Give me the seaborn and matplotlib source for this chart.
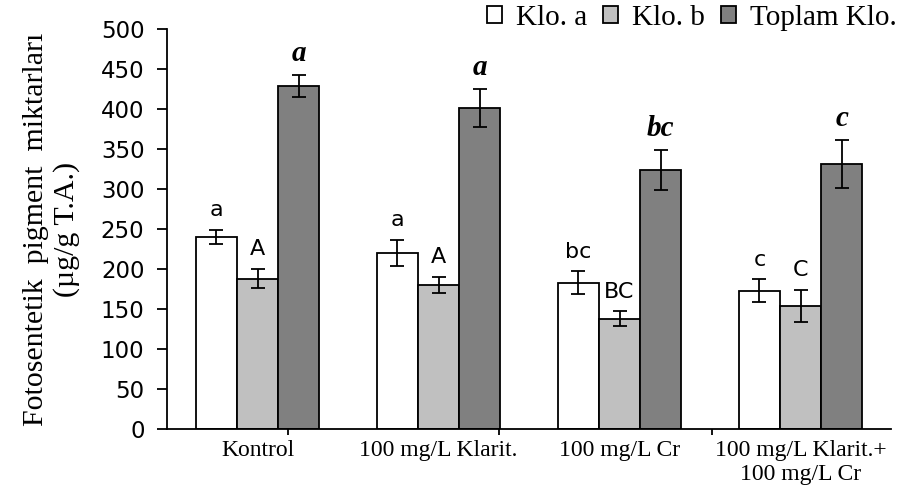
import matplotlib
matplotlib.use("Agg")
import matplotlib.pyplot as plt
import pandas as pd
import seaborn as sns
from matplotlib.patches import Patch

# Treatment groups and pigment series
groups = ["Kontrol", "100 mg/L Klarit.", "100 mg/L Cr", "100 mg/L Klarit.+\n100 mg/L Cr"]
series = ["Klo. a", "Klo. b", "Toplam Klo."]

# Means and standard errors (µg/g T.A.)
klo_a = [240, 220, 183, 173]
klo_a_err = [9, 16, 14, 14]
klo_b = [188, 180, 138, 154]
klo_b_err = [12, 10, 9, 20]
toplam = [429, 401, 324, 331]
toplam_err = [14, 24, 25, 30]

# Significance letters
letters_a = ["a", "a", "bc", "c"]
letters_b = ["A", "A", "BC", "C"]
letters_t = ["a", "a", "bc", "c"]

yticks = list(range(0, 501, 50))
colors = ["#FFFFFF", "#C0C0C0", "#808080"]

df = pd.DataFrame({
    "grup": groups * 3,
    "seri": [s for s in series for _ in groups],
    "deger": klo_a + klo_b + toplam,
})

sns.set_style("ticks")
plt.rcParams["font.family"] = ["Liberation Serif", "DejaVu Serif"]
plt.rcParams["axes.edgecolor"] = "black"
plt.rcParams["text.color"] = "black"
plt.rcParams["xtick.color"] = "black"
plt.rcParams["ytick.color"] = "black"
plt.rcParams["axes.labelcolor"] = "black"

fig = plt.figure(figsize=(9.1, 4.99), dpi=100)
ax = fig.add_axes([167 / 910, 70 / 499, (891 - 167) / 910, 400 / 499])

sns.barplot(data=df, x="grup", y="deger", hue="seri", order=groups,
            hue_order=series, palette=dict(zip(series, colors)),
            saturation=1, width=0.68, edgecolor="black", linewidth=1.3,
            errorbar=None, legend=False, ax=ax)

values = [klo_a, klo_b, toplam]
errors = [klo_a_err, klo_b_err, toplam_err]
letters = [letters_a, letters_b, letters_t]
bar_containers = list(ax.containers)
for k, cont in enumerate(bar_containers):
    for bar, v, e, lab in zip(cont, values[k], errors[k], letters[k]):
        xc = bar.get_x() + bar.get_width() / 2
        ax.errorbar(xc, v, yerr=e, fmt="none", ecolor="black",
                    elinewidth=1.3, capsize=5, capthick=1.3, zorder=5)
        if k < 2:
            ax.annotate(lab, (xc, v + e), xytext=(0, 10), textcoords="offset points",
                        ha="center", va="baseline", fontsize=16,
                        family="DejaVu Sans")
        else:
            ax.annotate(lab, (xc, v + e), xytext=(0, 10), textcoords="offset points",
                        ha="center", va="baseline", fontsize=21,
                        fontweight="bold", fontstyle="italic")

ax.set_xlim(-0.5, 3.5)
ax.set_ylim(0, 500)
ax.set_yticks(yticks)
ax.set_yticklabels([str(t) for t in yticks])
for lbl in ax.get_yticklabels():
    lbl.set_fontfamily("DejaVu Sans")
ax.tick_params(axis="y", length=7.2, width=1.3, pad=9, labelsize=16.5)
ax.tick_params(axis="x", which="major", length=0, pad=8, labelsize=17)
ax.set_xticks([0.168, 1.337, 2.51], minor=True)
ax.tick_params(axis="x", which="minor", length=4.5, width=1.3, direction="out")

for side in ["top", "right"]:
    ax.spines[side].set_visible(False)
for side in ["left", "bottom"]:
    ax.spines[side].set_linewidth(1.3)

ax.set_xlabel("")
ax.set_ylabel("Fotosentetik  pigment  miktarları\n(µg/g T.A.)", fontsize=21.5)
ax.yaxis.set_label_coords(-0.12, 0.5)

handles = [Patch(facecolor=c, edgecolor="black", linewidth=1.3) for c in colors]
fig.legend(handles, series, loc="upper right", bbox_to_anchor=(897 / 910, 1 - 5 / 499),
           ncol=3, frameon=False, fontsize=21, handlelength=0.52, handleheight=0.52,
           handletextpad=0.5, columnspacing=0.52, borderpad=0, borderaxespad=0)

fig.savefig("out.png", dpi=100)
